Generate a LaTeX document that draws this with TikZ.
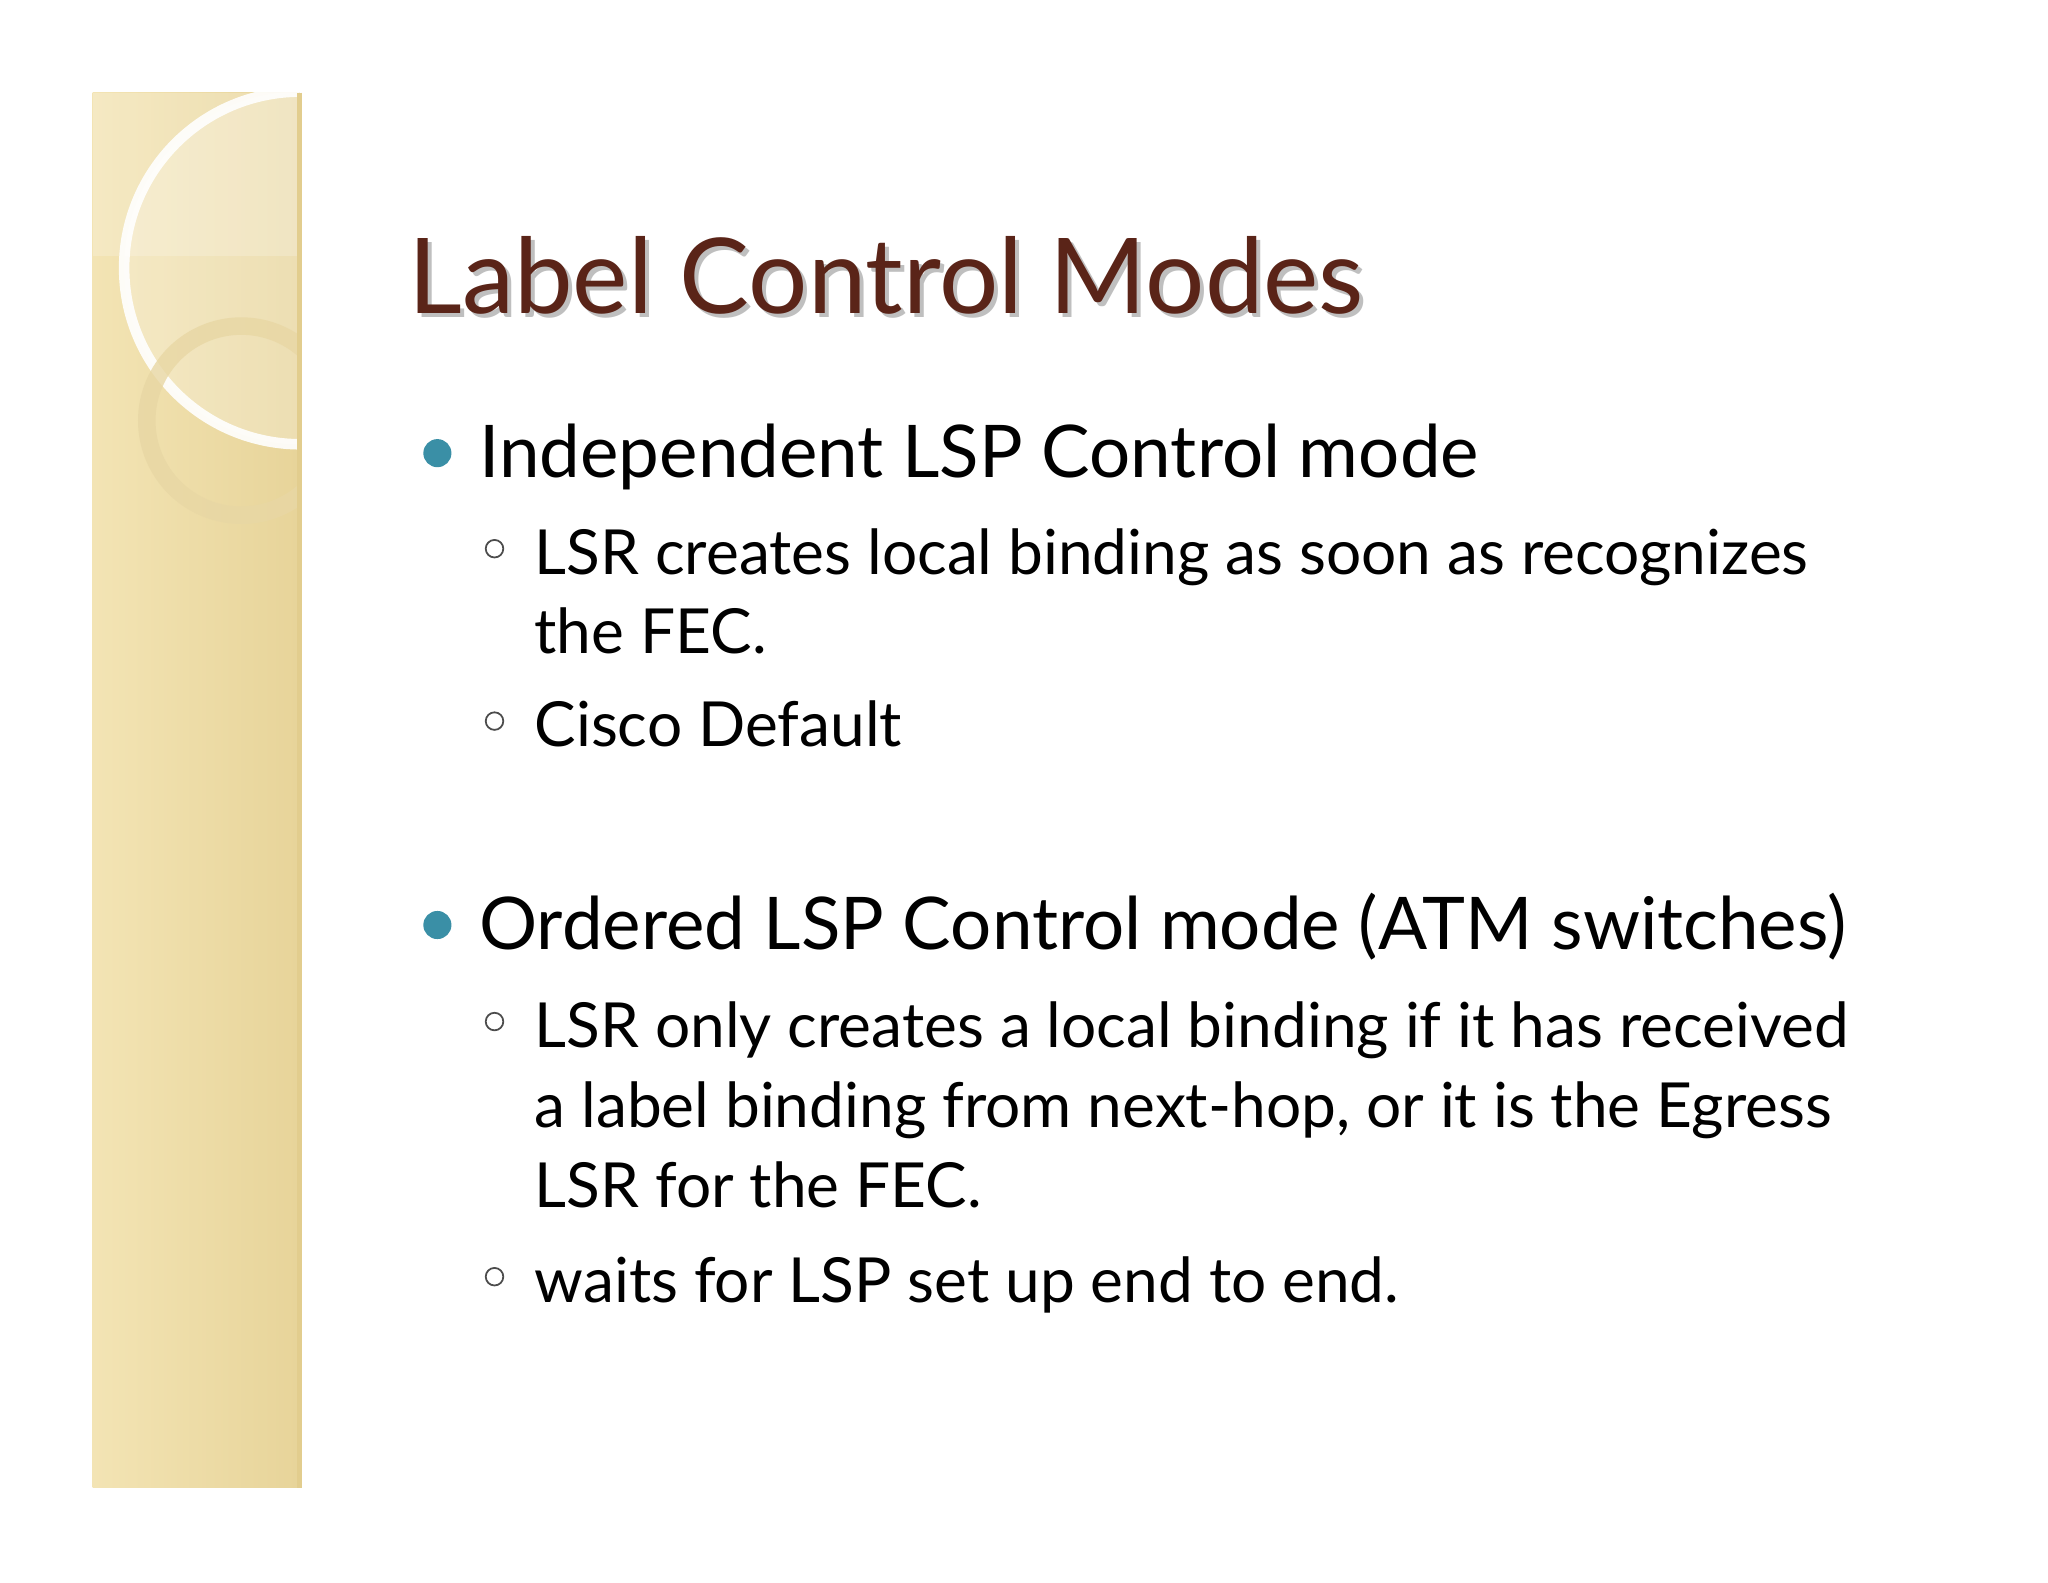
\documentclass[tikz,border=0pt]{standalone}
\usepackage{fontspec}
\setmainfont{Lato}
\definecolor{titlec}{HTML}{5A2418}
\definecolor{panelc}{HTML}{F3E4B4}
\definecolor{paneld}{HTML}{E2CD8E}
\definecolor{bulc}{HTML}{3A8FA6}
\begin{document}
\begin{tikzpicture}[x=0.00985cm,y=-0.00985cm,
  bigt/.style={anchor=base west,inner sep=0pt,font=\fontsize{20.7}{25}\selectfont},
  subt/.style={anchor=base west,inner sep=0pt,font=\fontsize{17.7}{21}\selectfont,align=left},
  dotb/.style={circle,fill=bulc,minimum size=8pt,inner sep=0pt},
  ringb/.style={circle,draw=black!70,line width=0.5pt,minimum size=5pt,inner sep=0pt}]
\useasboundingbox (0,0) rectangle (2079,1606);
\fill[white] (0,0) rectangle (2079,1606);
% panel
\begin{scope}
\clip (94,94) rectangle (304,1510);
\shade[left color=panelc,right color=paneld!70!panelc] (94,94) rectangle (304,1510);
\fill[white,opacity=0.25] (305,272) circle (179);
\fill[white,opacity=0.2] (94,94) rectangle (304,260);
\draw[white,line width=3pt,opacity=0.9] (305,272) circle (179);
\draw[paneld!80!white,line width=5pt,opacity=0.8] (245,427) circle (96);
\end{scope}
\draw[paneld,line width=1.5pt] (304,94) -- (304,1510);
% title
\node[anchor=base west,inner sep=0pt,text=black!25,font=\fontsize{29.8}{36}\selectfont] (tsh) at (418,322) {Label Control Modes};
\node[anchor=base west,inner sep=0pt,text=titlec,font=\fontsize{29.8}{36}\selectfont] (title) at (414,318) {Label Control Modes};
% bullet 1
\node[dotb] (d1) at (444,460) {};
\node[bigt] (b1) at (486,485) {Independent LSP Control mode};
\node[ringb] (r1) at (502,557) {};
\node[subt] (s1) at (542,583) {LSR creates local binding as soon as recognizes};
\node[subt] (s1b) at (542,663) {the FEC.};
\node[ringb] (r2) at (502,732) {};
\node[subt] (s2) at (542,758) {Cisco Default};
% bullet 2
\node[dotb] (d2) at (444,939) {};
\node[bigt] (b2) at (486,964) {Ordered LSP Control mode (ATM switches)};
\node[ringb] (r3) at (502,1037) {};
\node[subt] (s3) at (542,1063) {LSR only creates a local binding if it has received};
\node[subt] (s3b) at (542,1145) {a label binding from next-hop, or it is the Egress};
\node[subt] (s3c) at (542,1226) {LSR for the FEC.};
\node[ringb] (r4) at (502,1296) {};
\node[subt] (s4) at (542,1322) {waits for LSP set up end to end.};
\end{tikzpicture}
\end{document}
